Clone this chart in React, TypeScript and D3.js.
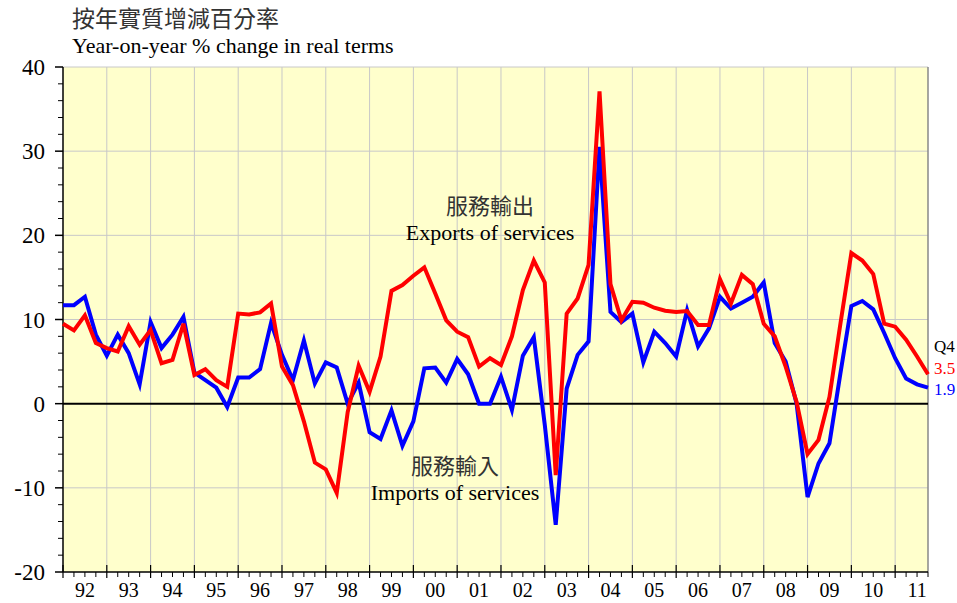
import React from 'react';
import * as d3 from 'd3';

// year labels, one per year (4 quarters each)
const years = ['92', '93', '94', '95', '96', '97', '98', '99', '00', '01', '02', '03', '04', '05', '06', '07', '08', '09', '10', '11'];

// Exports of services, y-o-y % change, 1992 Q1 - 2011 Q4
const exportsSeries = [
  9.5, 8.7, 10.5, 7.2,
  6.6, 6.2, 9.2, 7.0,
  8.75, 4.8, 5.2, 9.5,
  3.4, 4.1, 2.8, 2.0,
  10.7, 10.6, 10.85, 11.9,
  4.4, 2.2, -2.1, -7.0,
  -7.8, -10.6, -1.0, 4.5,
  1.4, 5.6, 13.4, 14.1,
  15.2, 16.2, 13.1, 9.9,
  8.55, 7.9, 4.4, 5.4,
  4.6, 8.0, 13.5, 17.0,
  14.4, -8.5, 10.7, 12.5,
  16.5, 37.1, 14.2, 9.9,
  12.1, 12.0, 11.4, 11.05,
  10.9, 11.0, 9.35, 9.35,
  14.8, 11.9, 15.3, 14.2,
  9.5, 8.0, 4.4, 0.2,
  -6.0, -4.3, 0.8, 9.5,
  17.9, 17.0, 15.4, 9.5,
  9.15, 7.6, 5.6, 3.5,
];

// Imports of services
const importsSeries = [
  11.7, 11.7, 12.7, 8.2,
  5.7, 8.2, 6.0, 2.3,
  9.7, 6.6, 8.2, 10.3,
  3.7, 2.8, 1.9, -0.4,
  3.1, 3.1, 4.1, 9.6,
  5.8, 2.8, 7.5, 2.4,
  4.9, 4.3, 0.0, 2.5,
  -3.4, -4.2, -0.8, -5.0,
  -2.1, 4.2, 4.3, 2.5,
  5.3, 3.5, 0.0, 0.0,
  3.2, -0.75, 5.7, 7.9,
  -2.5, -14.4, 1.8, 5.8,
  7.4, 30.5, 10.9, 9.7,
  10.7, 4.9, 8.55, 7.2,
  5.6, 11.1, 6.8, 8.95,
  12.7, 11.3, 12.0, 12.7,
  14.4, 7.2, 5.0, 0.0,
  -11.1, -7.1, -4.7, 3.6,
  11.6, 12.2, 11.2, 8.4,
  5.4, 3.0, 2.3, 1.9,
];

const yTicks = [-20, -10, 0, 10, 20, 30, 40];

const W = 957;
const H = 603;
const serif = '"Liberation Serif", "Times New Roman", serif';
const cjk = '"Noto Sans CJK TC", "Noto Sans CJK SC", sans-serif';

const App: React.FC = () => {
  const left = 63;
  const right = 928;
  const top = 67;
  const bottom = 572;
  const n = exportsSeries.length;

  const x = d3.scaleLinear().domain([0, n - 1]).range([left, right]);
  const y = d3.scaleLinear().domain([-20, 40]).range([bottom, top]);

  const line = d3
    .line<number>()
    .x((_, i) => x(i))
    .y((d) => y(d))
    .curve(d3.curveLinear);

  const minorY = d3.range(-20, 41, 2).filter((v) => v % 10 !== 0);
  const quarterIdx = d3.range(0, n);

  return (
    <svg width={W} height={H} style={{ position: 'absolute', left: 0, top: 0 }}>
      <rect x={left} y={top} width={right - left} height={bottom - top} fill="#FFFFCC" />

      {/* horizontal grid */}
      {yTicks.filter((v) => v !== -20 && v !== 0).map((v) => (
        <line key={'hg' + v} x1={left} x2={right} y1={y(v)} y2={y(v)} stroke="#c8c8c8" strokeWidth={1} />
      ))}
      {/* vertical grid at year boundaries */}
      {quarterIdx.filter((i) => i % 4 === 0 && i > 0).map((i) => (
        <line key={'vg' + i} x1={x(i)} x2={x(i)} y1={top} y2={bottom} stroke="#c8c8c8" strokeWidth={1} />
      ))}
      <line x1={right} x2={right} y1={top} y2={bottom} stroke="#888" strokeWidth={1.5} />

      {/* zero line */}
      <line x1={left} x2={right} y1={y(0)} y2={y(0)} stroke="#000" strokeWidth={2} />

      {/* y axis */}
      <line x1={left} x2={left} y1={top} y2={bottom} stroke="#000" strokeWidth={1.5} />
      {yTicks.map((v) => (
        <g key={'yt' + v}>
          <line x1={left - 8} x2={left} y1={y(v)} y2={y(v)} stroke="#000" strokeWidth={1.5} />
          <text x={45} y={y(v) + 8} textAnchor="end" fontFamily={serif} fontSize={23} fill="#000">
            {v}
          </text>
        </g>
      ))}
      {minorY.map((v) => (
        <line key={'ym' + v} x1={left - 5} x2={left} y1={y(v)} y2={y(v)} stroke="#000" strokeWidth={1} />
      ))}

      {/* x axis */}
      <line x1={left} x2={right} y1={bottom} y2={bottom} stroke="#000" strokeWidth={1.5} />
      {quarterIdx.map((i) =>
        i % 4 === 0 ? (
          <line key={'xt' + i} x1={x(i)} x2={x(i)} y1={bottom - 7} y2={bottom + 6} stroke="#000" strokeWidth={1.2} />
        ) : (
          <line key={'xt' + i} x1={x(i)} x2={x(i)} y1={bottom} y2={bottom + 5} stroke="#000" strokeWidth={1} />
        )
      )}
      {years.map((yr, k) => (
        <text key={yr} x={x(k * 4 + 2)} y={597} textAnchor="middle" fontFamily={serif} fontSize={20} fill="#000">
          {yr}
        </text>
      ))}

      {/* series */}
      <path d={line(importsSeries) ?? ''} fill="none" stroke="#0000FF" strokeWidth={4} strokeLinejoin="miter" />
      <path d={line(exportsSeries) ?? ''} fill="none" stroke="#FF0000" strokeWidth={4} strokeLinejoin="miter" />

      {/* titles */}
      <text x={72} y={27} fontFamily={cjk} fontSize={23} fill="#333">按年實質增減百分率</text>
      <text x={72} y={53} fontFamily={serif} fontSize={22} fill="#000">Year-on-year % change in real terms</text>

      {/* annotations */}
      <text x={490} y={214} textAnchor="middle" fontFamily={cjk} fontSize={22} fill="#333">服務輸出</text>
      <text x={490} y={240} textAnchor="middle" fontFamily={serif} fontSize={22} fill="#000">Exports of services</text>
      <text x={455} y={474} textAnchor="middle" fontFamily={cjk} fontSize={22} fill="#333">服務輸入</text>
      <text x={455} y={500} textAnchor="middle" fontFamily={serif} fontSize={22} fill="#000">Imports of services</text>

      {/* end labels */}
      <text x={934} y={352} fontFamily={serif} fontSize={17} fill="#000">Q4</text>
      <text x={934} y={374} fontFamily={serif} fontSize={17} fill="#FF0000">{exportsSeries[n - 1]}</text>
      <text x={934} y={395} fontFamily={serif} fontSize={17} fill="#0000FF">{importsSeries[n - 1]}</text>
    </svg>
  );
};

export default App;
